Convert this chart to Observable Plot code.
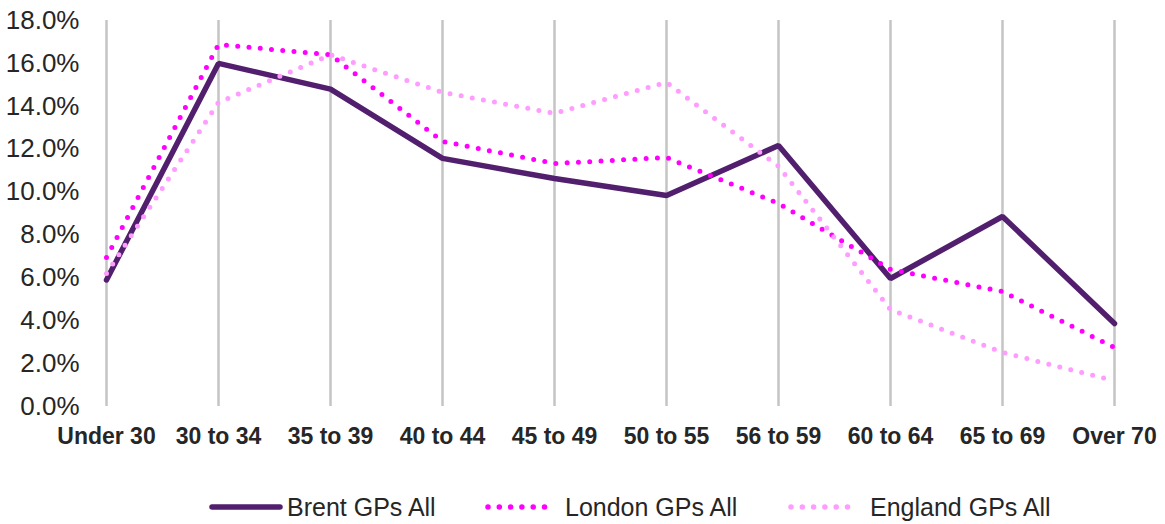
<!DOCTYPE html>
<html>
<head>
<meta charset="utf-8">
<script src="https://cdn.jsdelivr.net/npm/d3@7"></script>
<script src="https://cdn.jsdelivr.net/npm/@observablehq/plot@0.6"></script>
<style>
  html, body { margin: 0; padding: 0; background: #fff; }
  body { width: 1165px; height: 524px; position: relative; overflow: hidden; font-family: "Liberation Sans", Arial, sans-serif; }
  #chart svg { display: block; }
  #legend { position: absolute; left: 0; top: 493px; height: 28px; width: 1165px; font-size: 25px; color: #262626; }
  .item { position: absolute; top: 0; height: 28px; display: flex; align-items: center; white-space: nowrap; }
  .item svg { display: block; }
</style>
</head>
<body>
<div id="chart"></div>
<div id="legend"></div>
<script>
const categories = ["Under 30", "30 to 34", "35 to 39", "40 to 44", "45 to 49", "50 to 55", "56 to 59", "60 to 64", "65 to 69", "Over 70"];
const brent   = [0.059, 0.160, 0.148, 0.1157, 0.1063, 0.0984, 0.1217, 0.0597, 0.0886, 0.0387];
const london  = [0.0695, 0.1688, 0.164, 0.1236, 0.1133, 0.1161, 0.0947, 0.0639, 0.0536, 0.0275];
const england = [0.062, 0.1418, 0.164, 0.1465, 0.1367, 0.1511, 0.112, 0.0452, 0.0252, 0.012];
const seriesNames = ["Brent GPs All", "London GPs All", "England GPs All"];
const yTicks = [0, 0.02, 0.04, 0.06, 0.08, 0.10, 0.12, 0.14, 0.16, 0.18];

const table = (vals) => categories.map((c, i) => ({category: c, value: vals[i]}));

const colors = {brent: "#521f6e", london: "#ff00ff", england: "#ff9cff"};

const chart = Plot.plot({
  width: 1165,
  height: 460,
  marginLeft: 103,
  marginRight: 48,
  marginTop: 20,
  marginBottom: 54,
  style: {fontFamily: "'Liberation Sans', Arial, sans-serif", color: "#262626", background: "#fff"},
  x: {type: "point", domain: categories, padding: 0, range: [103, 1117], label: null},
  y: {domain: [0, 0.18], range: [406, 20], label: null},
  marks: [
    Plot.ruleX(categories, {x: d => d, y1: 0, y2: 0.18, stroke: "#c4c4c4", strokeWidth: 2.5}),
    Plot.axisY({ticks: yTicks, tickFormat: d3.format(".1%"), tickSize: 0, tickPadding: 24, fontSize: 26, fill: "#262626", label: null}),
    Plot.axisX({tickSize: 0, tickPadding: 21, fontSize: 23, fontWeight: "bold", fill: "#262626", label: null}),
    Plot.line(table(brent), {x: "category", y: "value", stroke: colors.brent, strokeWidth: 5.5, strokeLinejoin: "miter"}),
    Plot.line(table(london), {x: "category", y: "value", stroke: colors.london, strokeWidth: 5, strokeDasharray: "0 11.3", strokeLinecap: "round"}),
    Plot.line(table(england), {x: "category", y: "value", stroke: colors.england, strokeWidth: 5, strokeDasharray: "0 11.3", strokeLinecap: "round"})
  ]
});
document.getElementById("chart").appendChild(chart);

// Legend
const legend = document.getElementById("legend");
const items = [
  {name: seriesNames[0], color: colors.brent, dashed: false, left: 209, sw: 74, gap: 4},
  {name: seriesNames[1], color: colors.london, dashed: true, left: 485, sw: 66, gap: 14},
  {name: seriesNames[2], color: colors.england, dashed: true, left: 788, sw: 66, gap: 16}
];
for (const it of items) {
  const div = document.createElement("div");
  div.className = "item";
  div.style.left = it.left + "px";
  const ns = "http://www.w3.org/2000/svg";
  const s = document.createElementNS(ns, "svg");
  s.setAttribute("width", it.sw);
  s.setAttribute("height", 12);
  const l = document.createElementNS(ns, "line");
  l.setAttribute("x1", 3); l.setAttribute("x2", it.sw - 3);
  l.setAttribute("y1", 6); l.setAttribute("y2", 6);
  l.setAttribute("stroke", it.color);
  l.setAttribute("stroke-width", 5.5);
  l.setAttribute("stroke-linecap", "round");
  if (it.dashed) l.setAttribute("stroke-dasharray", "0 11.3");
  s.appendChild(l);
  div.appendChild(s);
  const t = document.createElement("span");
  t.textContent = it.name;
  t.style.marginLeft = it.gap + "px";
  div.appendChild(t);
  legend.appendChild(div);
}
</script>
</body>
</html>
